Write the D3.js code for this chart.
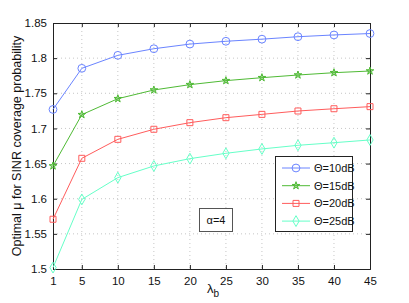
<!DOCTYPE html>
<html>
<head>
<meta charset="utf-8">
<title>Optimal mu</title>
<script src="https://d3js.org/d3.v7.min.js"></script>
<style>
  body { margin: 0; background: #fff; }
  text { font-family: "Liberation Sans", Arial, sans-serif; }
</style>
</head>
<body>
<script>
// data
var lambdas = [1, 5, 10, 15, 20, 25, 30, 35, 40, 45];
var mu10 = [1.727, 1.7855, 1.804, 1.8134, 1.820, 1.824, 1.827, 1.8305, 1.833, 1.835];
var mu15 = [1.6466, 1.7196, 1.7423, 1.7547, 1.7623, 1.768, 1.7722, 1.776, 1.7793, 1.7817];
var mu20 = [1.5708, 1.6575, 1.6845, 1.6988, 1.7082, 1.7153, 1.720, 1.7248, 1.728, 1.731];
var mu25 = [1.502, 1.599, 1.630, 1.6466, 1.657, 1.6646, 1.6708, 1.676, 1.6797, 1.6836];
var names = ["\u0398=10dB", "\u0398=15dB", "\u0398=20dB", "\u0398=25dB"];
var yTicks = [1.5, 1.55, 1.6, 1.65, 1.7, 1.75, 1.8, 1.85];
var xTicks = [1, 5, 10, 15, 20, 25, 30, 35, 40, 45];

var colors = ["#6a84ff", "#4fba35", "#ff5c5c", "#66ffc8"];
var shapes = ["circle", "star", "square", "diamond"];
var series = [mu10, mu15, mu20, mu25];

var W = 409, H = 303;
var m = {l: 53, t: 23, r: 39, b: 34};
var iw = W - m.l - m.r, ih = H - m.t - m.b;

var svg = d3.select("body").append("svg")
    .attr("width", W).attr("height", H);

var x = d3.scaleLinear().domain([1, 45]).range([m.l, m.l + iw]);
var y = d3.scaleLinear().domain([1.5, 1.85]).range([m.t + ih, m.t]);

// grid
svg.append("g").selectAll("line.gx").data(xTicks.slice(1, -1)).enter().append("line")
    .attr("x1", d => x(d)).attr("x2", d => x(d))
    .attr("y1", m.t).attr("y2", m.t + ih)
    .attr("stroke", "#b8b8b8").attr("stroke-width", 0.8).attr("stroke-dasharray", "1,3");
svg.append("g").selectAll("line.gy").data(yTicks.slice(1, -1)).enter().append("line")
    .attr("y1", d => y(d)).attr("y2", d => y(d))
    .attr("x1", m.l).attr("x2", m.l + iw)
    .attr("stroke", "#b8b8b8").attr("stroke-width", 0.8).attr("stroke-dasharray", "1,3");

// axes
svg.append("g").attr("transform", "translate(0," + (m.t + ih) + ")")
    .call(d3.axisBottom(x).tickValues(xTicks).tickSize(-4).tickPadding(8));
svg.append("g").attr("transform", "translate(" + m.l + ",0)")
    .call(d3.axisLeft(y).tickValues(yTicks).tickFormat(d3.format("~g")).tickSize(-4).tickPadding(6));
svg.append("g").attr("transform", "translate(0," + m.t + ")")
    .call(d3.axisTop(x).tickValues(xTicks).tickSize(-4).tickFormat(""));
svg.append("g").attr("transform", "translate(" + (m.l + iw) + ",0)")
    .call(d3.axisRight(y).tickValues(yTicks).tickSize(-4).tickFormat(""));
svg.selectAll(".domain").attr("stroke", "#222");
svg.selectAll(".tick line").attr("stroke", "#222");
svg.selectAll(".tick text").attr("font-size", 11.5).attr("fill", "#111")
    .style("font-family", "'Liberation Sans', Arial, sans-serif");

function symbolFor(s) {
  var t = {circle: d3.symbolCircle, star: d3.symbolStar, square: d3.symbolSquare, diamond: d3.symbolDiamond}[s];
  var sz = {circle: 48, star: 18, square: 36, diamond: 34}[s];
  return d3.symbol().type(t).size(sz)();
}

var line = d3.line().x((d, i) => x(lambdas[i])).y(d => y(d));

function styleMarker(sel, k) {
  sel.attr("d", symbolFor(shapes[k]))
    .attr("fill", shapes[k] === "star" ? colors[k] : "none")
    .attr("fill-opacity", shapes[k] === "star" ? 0.5 : 1)
    .attr("stroke", colors[k]).attr("stroke-width", 1);
}

series.forEach(function (vals, k) {
  var g = svg.append("g");
  g.append("path").datum(vals).attr("d", line)
    .attr("fill", "none").attr("stroke", colors[k]).attr("stroke-width", 1);
  g.selectAll("path.m").data(vals).enter().append("path")
    .attr("class", "m")
    .attr("transform", (d, i) => "translate(" + x(lambdas[i]) + "," + y(d) + ")")
    .call(styleMarker, k);
});

// legend
var lg = svg.append("g");
lg.append("rect").attr("x", 275.5).attr("y", 156.5).attr("width", 77).attr("height", 75)
  .attr("fill", "#fff").attr("stroke", "#222").attr("stroke-width", 1);
names.forEach(function (n, k) {
  var yy = 168 + k * 17.7;
  lg.append("line").attr("x1", 282).attr("x2", 310).attr("y1", yy).attr("y2", yy)
    .attr("stroke", colors[k]).attr("stroke-width", 1);
  lg.append("path").attr("transform", "translate(296," + yy + ")").call(styleMarker, k);
  lg.append("text").attr("x", 314).attr("y", yy + 4).attr("font-size", 11)
    .attr("fill", "#111").text(n);
});

// alpha box
svg.append("rect").attr("x", 199.5).attr("y", 208.5).attr("width", 33).attr("height", 23)
  .attr("fill", "#fff").attr("stroke", "#555").attr("stroke-width", 1);
svg.append("text").attr("x", 216).attr("y", 223.5).attr("text-anchor", "middle")
  .attr("font-size", 11).attr("fill", "#111").text("\u03b1=4");

// axis labels
var xl = svg.append("text").attr("x", 207).attr("y", 293).attr("font-size", 13).attr("fill", "#111");
xl.append("tspan").text("\u03bb");
xl.append("tspan").attr("dy", 4).attr("font-size", 10).text("b");

svg.append("text").attr("transform", "translate(21," + (m.t + ih / 2) + ") rotate(-90)")
  .attr("text-anchor", "middle").attr("font-size", 12.5).attr("fill", "#111")
  .text("Optimal \u03bc for SINR coverage probability");
</script>
</body>
</html>
